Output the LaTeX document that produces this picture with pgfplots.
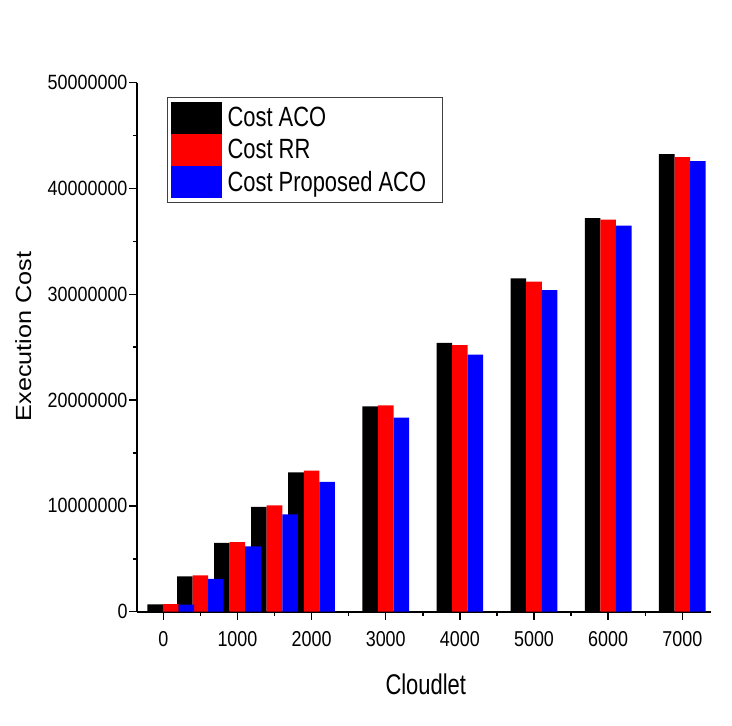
\documentclass[border=0pt]{standalone}
\usepackage{graphicx}
\usepackage{pgfplots}
\pgfplotsset{compat=1.18}
\usepackage{fontspec}
\setmainfont{Liberation Sans}
\pgfplotstableread{
x     aco       rr        prop
100   700000    720000    660000
500   3340000   3430000   3110000
1000  6510000   6570000   6170000
1500  9910000   10060000  9210000
2000  13180000  13340000  12260000
3000  19400000  19500000  18340000
4000  25400000  25200000  24300000
5000  31500000  31200000  30400000
6000  37200000  37050000  36500000
7000  43250000  42960000  42580000
}\datatable
\begin{document}
\begin{tikzpicture}
\begin{axis}[
  width=574bp, height=529bp, scale only axis,
  xmin=-355, xmax=7387, ymin=0, ymax=50000000,
  axis x line*=bottom, axis y line*=left,
  axis line style={line width=1.6bp, black},
  ybar, bar width=210,
  xtick={0,1000,2000,3000,4000,5000,6000,7000},
  minor x tick num=1,
  ytick={0,10000000,20000000,30000000,40000000,50000000},
  minor y tick num=1,
  scaled y ticks=false,
  tick align=outside,
  major tick length=8bp, minor tick length=4bp,
  tick style={line width=1.4bp, black},
  /pgf/number format/assume math mode=true,
  xticklabel style={/pgf/number format/1000 sep={}, font=\fontsize{18}{18}\selectfont, yscale=1.2, yshift=-6bp},
  yticklabel style={/pgf/number format/fixed, /pgf/number format/1000 sep={}, font=\fontsize{18}{18}\selectfont, yscale=1.15, xshift=2bp},
  xlabel={\scalebox{1}[1.3]{Cloudlet}}, ylabel={\scalebox{1.15}[1]{Execution Cost}},
  xlabel style={font=\fontsize{22}{22}\selectfont, at={(axis description cs:0.503,-0.138)}, anchor=center},
  ylabel style={font=\fontsize{22}{22}\selectfont, at={(axis description cs:-0.198,0.52)}, anchor=center},
  legend style={at={(axis description cs:0.0517,0.973)}, anchor=north west,
    draw=black!75, line width=0.8bp, font=\fontsize{22}{22}\selectfont,
    inner xsep=3.6bp, inner ysep=4.5bp, row sep=0pt, column sep=4bp,
    nodes={inner sep=1.9bp}},
  legend cell align=left,
  legend image code/.code={\fill[#1] (0bp,-16bp) rectangle (51bp,16bp);},
]
\coordinate (O) at (rel axis cs:0,0);
\addplot[fill=black, draw=none, bar shift=-210] table[x=x, y=aco] {\datatable};
\addplot[fill=red, draw=none, bar shift=0] table[x=x, y=rr] {\datatable};
\addplot[fill=blue, draw=none, bar shift=210] table[x=x, y=prop] {\datatable};
\legend{\scalebox{1}[1.27]{Cost ACO}, \scalebox{1}[1.27]{Cost RR}, \scalebox{1}[1.27]{Cost Proposed ACO}\hspace*{11bp}}
\end{axis}
\path (O) ++(-137bp,-114.3bp) rectangle ++(732bp,726bp);
\end{tikzpicture}
\end{document}
